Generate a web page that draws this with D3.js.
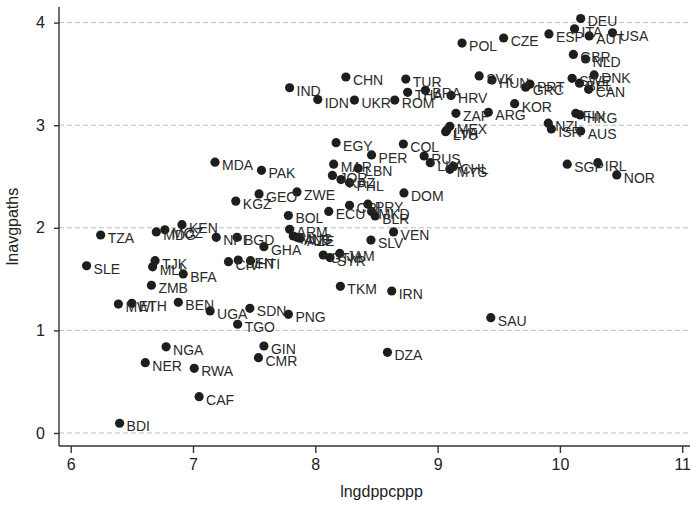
<!DOCTYPE html>
<html>
<head>
<meta charset="utf-8">
<script src="https://cdn.jsdelivr.net/npm/d3@7"></script>
<style>
    body { margin: 0; background: #fff; }
    svg { display: block; }
</style>
</head>
<body>
<div id="chart"></div>
<script>
// country codes, log gdp per capita (x) and log avg paths (y)
const codes = [
    "DEU", "ITA", "ESP", "AUT", "USA", "GBR", "NLD", "DNK", "SWE", "BEL",
    "CAN", "FIN", "HKG", "NZL", "ISR", "AUS", "GRC", "PRT", "KOR", "CZE",
    "POL", "SVK", "HUN", "TUR", "THA", "BRA", "HRV", "ROM", "ZAF", "ARG",
    "MEX", "LVA", "LTU", "COL", "RUS", "CHN", "IND", "IDN", "UKR", "EGY",
    "PER", "MDA", "PAK", "MAR", "LBN", "JOR", "KAZ", "PHL", "KGZ", "GEO",
    "ZWE", "BOL", "ECU", "CRI", "PRY", "MKD", "BLR", "ARM", "MNG", "ALB",
    "AZE", "NPL", "BGD", "GHA", "CIV", "SEN", "HTI", "SLV", "GTM", "SYR",
    "JAM", "TKM", "LKA", "MYS", "CHL", "DOM", "VEN", "IRN", "SGP", "IRL",
    "NOR", "TZA", "MDG", "MOZ", "KEN", "SLE", "TJK", "MLI", "BFA", "ZMB",
    "MWI", "ETH", "BEN", "UGA", "NGA", "NER", "RWA", "CAF", "BDI", "SDN",
    "TGO", "PNG", "GIN", "CMR", "SAU", "DZA"
];

const lngdppcppp = [
    10.17, 10.12, 9.91, 10.24, 10.43, 10.11, 10.21, 10.28, 10.10, 10.16,
    10.235, 10.13, 10.165, 9.905, 9.93, 10.17, 9.72, 9.755, 9.63, 9.54,
    9.20, 9.34, 9.445, 8.74, 8.755, 8.90, 9.11, 8.65, 9.15, 9.415,
    9.10, 9.075, 9.066, 8.72, 8.89, 8.25, 7.79, 8.02, 8.32, 8.17,
    8.46, 7.18, 7.56, 8.15, 8.35, 8.14, 8.21, 8.28, 7.35, 7.54,
    7.85, 7.78, 8.11, 8.28, 8.43, 8.46, 8.49, 7.79, 7.82, 7.85,
    7.875, 7.19, 7.36, 7.58, 7.29, 7.37, 7.47, 8.455, 8.065, 8.12,
    8.20, 8.205, 8.94, 9.10, 9.13, 8.725, 8.64, 8.625, 10.06, 10.31,
    10.465, 6.245, 6.70, 6.77, 6.91, 6.13, 6.69, 6.67, 6.92, 6.66,
    6.39, 6.50, 6.88, 7.14, 6.78, 6.61, 7.01, 7.05, 6.40, 7.465,
    7.365, 7.78, 7.58, 7.535, 9.435, 8.59
];

const lnavgpaths = [
    4.04, 3.94, 3.89, 3.87, 3.90, 3.69, 3.645, 3.49, 3.457, 3.41,
    3.35, 3.116, 3.10, 3.02, 2.963, 2.943, 3.37, 3.40, 3.21, 3.85,
    3.80, 3.48, 3.44, 3.45, 3.32, 3.34, 3.29, 3.245, 3.116, 3.126,
    2.99, 2.95, 2.937, 2.817, 2.70, 3.47, 3.365, 3.25, 3.245, 2.83,
    2.71, 2.64, 2.56, 2.62, 2.58, 2.51, 2.47, 2.44, 2.26, 2.33,
    2.35, 2.12, 2.16, 2.22, 2.23, 2.16, 2.115, 1.985, 1.92, 1.907,
    1.898, 1.907, 1.907, 1.816, 1.67, 1.686, 1.68, 1.88, 1.735, 1.71,
    1.75, 1.43, 2.635, 2.57, 2.60, 2.34, 1.96, 1.384, 2.62, 2.635,
    2.515, 1.93, 1.96, 1.98, 2.03, 1.63, 1.68, 1.62, 1.55, 1.44,
    1.257, 1.264, 1.274, 1.19, 0.84, 0.685, 0.63, 0.354, 0.095, 1.215,
    1.06, 1.157, 0.848, 0.734, 1.124, 0.786
];

const xTicks = [6, 7, 8, 9, 10, 11];
const yTicks = [0, 1, 2, 3, 4];

const width = 691;
const height = 506;

const plot = {
    left: 59,
    right: 690,
    top: 7,
    bottom: 446,
};

const x = d3.scaleLinear().domain([6, 11]).range([70.7, 682.2]);
const y = d3.scaleLinear().domain([0, 4]).range([433, 22.6]);

const points = codes.map((c, i) => {
    return { code: c, gdp: lngdppcppp[i], paths: lnavgpaths[i] };
});

const svg = d3.select("#chart")
    .append("svg")
    .attr("width", width)
    .attr("height", height)
    .style("font-family", "'Liberation Sans', Arial, sans-serif");

// dashed gridlines
svg.append("g")
    .selectAll("line")
    .data(yTicks)
    .enter()
    .append("line")
    .attr("x1", plot.left)
    .attr("x2", plot.right)
    .attr("y1", (d) => y(d))
    .attr("y2", (d) => y(d))
    .attr("stroke", "#bdbdbd")
    .attr("stroke-width", 1)
    .attr("stroke-dasharray", "5,3");

// y axis
const yAxis = svg.append("g")
    .attr("transform", `translate(${plot.left},0)`)
    .call(d3.axisLeft(y).tickValues(yTicks).tickSize(5).tickPadding(9).tickFormat(d3.format("d")));

// x axis
const xAxis = svg.append("g")
    .attr("transform", `translate(0,${plot.bottom})`)
    .call(d3.axisBottom(x).tickValues(xTicks).tickSize(7).tickPadding(6).tickFormat(d3.format("d")));

[yAxis, xAxis].forEach(ax => {
    ax.select(".domain").remove();
    ax.selectAll(".tick line").attr("stroke", "#333").attr("stroke-width", 1.4);
    ax.selectAll(".tick text")
        .attr("fill", "#222")
        .style("font-size", "16px")
        .style("font-family", "'Liberation Sans', Arial, sans-serif");
});

// axis lines, left and bottom only
svg.append("line")
    .attr("x1", plot.left).attr("x2", plot.left)
    .attr("y1", plot.top).attr("y2", plot.bottom)
    .attr("stroke", "#333").attr("stroke-width", 1.4);
svg.append("line")
    .attr("x1", plot.left).attr("x2", plot.right)
    .attr("y1", plot.bottom).attr("y2", plot.bottom)
    .attr("stroke", "#333").attr("stroke-width", 1.4);

// points
svg.append("g")
    .selectAll("circle")
    .data(points)
    .enter()
    .append("circle")
    .attr("cx", (d) => x(d.gdp))
    .attr("cy", (d) => y(d.paths))
    .attr("r", 4.6)
    .attr("fill", "#1e1e1e");

// labels (overlaps are kept, as in the original)
svg.append("g")
    .selectAll("text")
    .data(points)
    .enter()
    .append("text")
    .attr("x", (d) => x(d.gdp) + 7)
    .attr("y", (d) => y(d.paths) + 8)
    .attr("fill", "#2a2a2a")
    .style("font-size", "14px")
    .text((d) => d.code);

// axis titles
svg.append("text")
    .attr("x", (plot.left + plot.right) / 2 + 7)
    .attr("y", 497)
    .attr("text-anchor", "middle")
    .attr("fill", "#222")
    .style("font-size", "16px")
    .text("lngdppcppp");

svg.append("text")
    .attr("transform", `translate(18,${(plot.top + plot.bottom) / 2}) rotate(-90)`)
    .attr("text-anchor", "middle")
    .attr("fill", "#222")
    .style("font-size", "16px")
    .text("lnavgpaths");
</script>
</body>
</html>
